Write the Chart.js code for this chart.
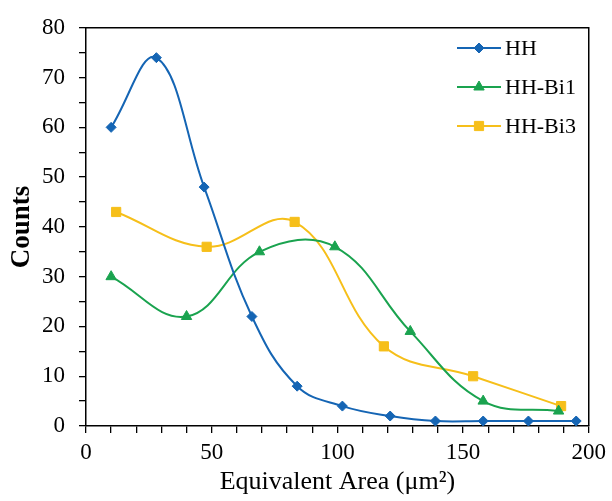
<!DOCTYPE html>
<html>
<head>
<meta charset="utf-8">
<script src="https://cdn.jsdelivr.net/npm/chart.js@4/dist/chart.umd.min.js"></script>
<style>
  html, body { margin: 0; padding: 0; background: #fff; }
  #wrap { position: relative; width: 612px; height: 501px; }
</style>
</head>
<body>
<div id="wrap"><canvas id="chart-dist"></canvas></div>
<script>
// values
const hhX = [10, 28, 47, 66, 84, 102, 121, 139, 158, 176, 195];
const hhY = [60, 74, 48, 22, 8, 4, 2, 1, 1, 1, 1];

const bi1X = [10, 40, 69, 99, 129, 158, 188];
const bi1Y = [30, 22, 35, 36, 19, 5, 3];

const bi3X = [12, 48, 83, 118.5, 154, 189];
const bi3Y = [43, 36, 41, 16, 10, 4];

const seriesNames = ['HH', 'HH-Bi1', 'HH-Bi3'];
const xTitle = 'Equivalent Area (\u03bcm\u00b2)';
const yTitle = 'Counts';

const FONT = "'Liberation Serif', 'Times New Roman', serif";

function toPoints(xs, ys) {
    return xs.map((x, i) => ({ x: x, y: ys[i] }));
}

// frame on top and right side of the plot area
const frameBox = {
    id: 'frameBox',
    afterDraw(chart) {
        const { ctx, chartArea: a } = chart;
        ctx.save();
        ctx.strokeStyle = '#000';
        ctx.lineWidth = 1.5;
        ctx.beginPath();
        ctx.moveTo(a.left, a.top);
        ctx.lineTo(a.right, a.top);
        ctx.lineTo(a.right, a.bottom);
        ctx.stroke();
        ctx.restore();
    }
};

// legend drawn inside the plot, top right
const insideLegend = {
    id: 'insideLegend',
    afterDraw(chart) {
        const { ctx } = chart;
        const x0 = 457, x1 = 501, tx = 505;
        const rows = [48, 87, 126];
        ctx.save();
        chart.data.datasets.forEach((ds, i) => {
            const y = rows[i];
            ctx.strokeStyle = ds.borderColor;
            ctx.lineWidth = 2;
            ctx.beginPath();
            ctx.moveTo(x0, y);
            ctx.lineTo(x1, y);
            ctx.stroke();
            ctx.fillStyle = ds.pointBackgroundColor;
            ctx.strokeStyle = ds.pointBackgroundColor;
            ctx.lineWidth = 1;
            Chart.helpers.drawPoint(ctx, {
                pointStyle: ds.pointStyle,
                radius: ds.pointRadius,
                rotation: 0,
                borderWidth: 1
            }, (x0 + x1) / 2, y);
            ctx.fillStyle = '#000';
            ctx.font = '22px ' + FONT;
            ctx.textAlign = 'left';
            ctx.textBaseline = 'middle';
            ctx.fillText(ds.label, tx, y + 1);
        });
        ctx.restore();
    }
};

function makeDataset(label, xs, ys, color, style, radius) {
    return {
        label: label,
        data: toPoints(xs, ys),
        borderColor: color,
        backgroundColor: color,
        borderWidth: 2,
        tension: 0.4,
        fill: false,
        pointStyle: style,
        pointRadius: radius,
        pointBackgroundColor: color,
        pointBorderColor: color,
        pointBorderWidth: 1
    };
}

const canvas = document.getElementById('chart-dist');
const ctx = canvas.getContext('2d');

new Chart(ctx, {
    type: 'line',
    data: {
        datasets: [
            makeDataset(seriesNames[0], hhX, hhY, '#1565b4', 'rectRot', 5),
            makeDataset(seriesNames[1], bi1X, bi1Y, '#1aa34f', 'triangle', 6),
            makeDataset(seriesNames[2], bi3X, bi3Y, '#f6bf1a', 'rect', 6.5)
        ]
    },
    options: {
        responsive: true,
        maintainAspectRatio: false,
        animation: false,
        layout: { padding: { left: 0, right: 21, top: 18, bottom: 0 } },
        plugins: {
            legend: { display: false },
            tooltip: { enabled: false }
        },
        scales: {
            x: {
                type: 'linear',
                min: 0,
                max: 200,
                afterFit: (s) => { s.height = 75; },
                title: {
                    display: true,
                    text: xTitle,
                    color: '#000',
                    font: { family: FONT, size: 26 },
                    padding: { top: 0, bottom: 3 }
                },
                ticks: {
                    stepSize: 10,
                    autoSkip: false,
                    maxRotation: 0,
                    padding: 6,
                    color: '#000',
                    font: { family: FONT, size: 23 },
                    callback: (v) => (v % 50 === 0 ? v : '')
                },
                grid: { drawOnChartArea: false, drawTicks: true, tickLength: 7, color: '#000', lineWidth: 1.3 },
                border: { display: true, color: '#000', width: 1.5 }
            },
            y: {
                type: 'linear',
                min: 0,
                max: 80,
                afterFit: (s) => { s.width = 86; },
                title: {
                    display: true,
                    text: yTitle,
                    color: '#000',
                    font: { family: FONT, size: 27, weight: 'bold' },
                    padding: { top: 6, bottom: 0 }
                },
                ticks: {
                    stepSize: 5,
                    autoSkip: false,
                    padding: 14,
                    color: '#000',
                    font: { family: FONT, size: 23 },
                    callback: (v) => (v % 10 === 0 ? v : '')
                },
                grid: { drawOnChartArea: false, drawTicks: true, tickLength: 7, color: '#000', lineWidth: 1.3 },
                border: { display: true, color: '#000', width: 1.5 }
            }
        }
    },
    plugins: [frameBox, insideLegend]
});
</script>
</body>
</html>
